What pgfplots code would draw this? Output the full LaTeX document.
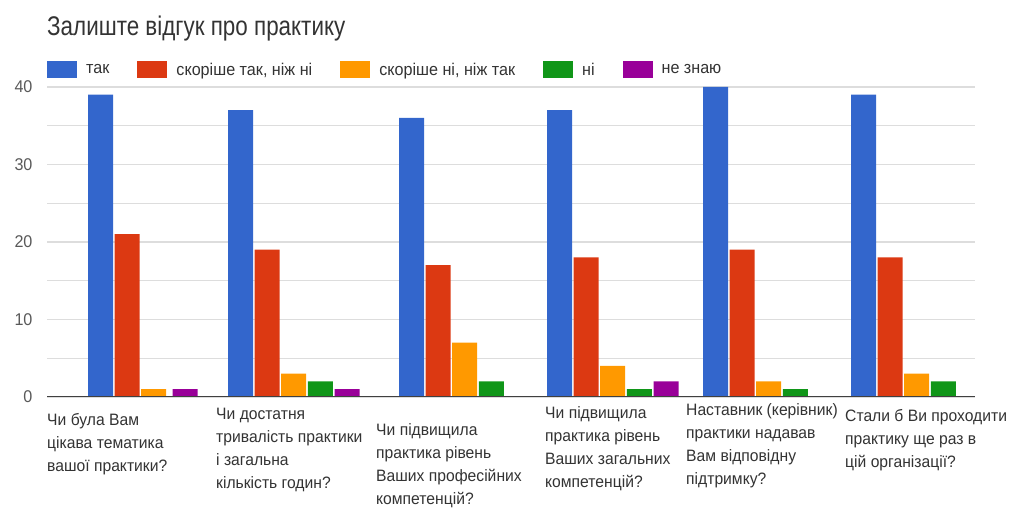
\documentclass[border=0pt]{standalone}
\usepackage{fontspec}
\setmainfont{Liberation Sans}[FakeStretch=0.95]
\newfontfamily\titlefont{Liberation Sans}[FakeStretch=0.83]
\usepackage{pgfplots}
\usepackage{pgfplotstable}
\pgfplotsset{compat=1.18}

\definecolor{gblue}{HTML}{3366CC}
\definecolor{gred}{HTML}{DC3912}
\definecolor{gorange}{HTML}{FF9900}
\definecolor{ggreen}{HTML}{109618}
\definecolor{gpurple}{HTML}{990099}
\definecolor{gridc}{HTML}{DDDDDD}
\definecolor{txt}{HTML}{333333}

% g = left edge of the group (px), xp = centre of the purple bar
\pgfplotstableread{
g   tak skortak skorni ni nz xp
88  39  21      1      0  1  185
228 37  19      3      2  1  347
399 36  17      7      2  0  518
547 37  18      4      1  2  666
703 40  19      2      1  0  822
851 39  18      3      2  0  970
}\data

\newcommand{\lbl}{\fontsize{16.5bp}{23bp}\selectfont}

\begin{document}
\begin{tikzpicture}[x=1bp,y=1bp]
\useasboundingbox (0,0) rectangle (1014,513);
\node[anchor=west, inner sep=0pt, text=txt] at (47,484)
  {\titlefont\fontsize{27bp}{30bp}\selectfont Залиште відгук про практику};
\begin{axis}[
    at={(47bp,116bp)}, anchor=south west,
    scale only axis, width=928bp, height=310bp,
    xmin=47, xmax=975, ymin=0, ymax=40,
    ybar, bar width=25, bar shift=0pt,
    axis line style={draw=none},
    xtick=\empty,
    ytick={0,10,20,30,40},
    minor ytick={5,15,25,35},
    major tick length=0pt, minor tick length=0pt,
    grid=both,
    major grid style={gridc, line width=1.2bp},
    minor grid style={gridc, line width=1.2bp},
    /pgf/number format/assume math mode=true,
    yticklabel style={font=\fontsize{17bp}{20bp}\selectfont, text=black!65, xshift=-11bp},
    legend columns=-1,
    legend image code/.code={\fill[#1] (0bp,-8.5bp) rectangle (30bp,8.5bp);},
    legend style={at={(0,1)}, anchor=west, yshift=17bp, draw=none, fill=none,
        inner sep=0pt, font=\fontsize{17bp}{20bp}\selectfont, text=txt,
        /tikz/every odd column/.append style={column sep=7bp},
        /tikz/every even column/.append style={column sep=26bp}},
]
\addplot[fill=gblue, draw=none] table[x expr=\thisrow{g}+12.5, y=tak] {\data};
\addplot[fill=gred, draw=none] table[x expr=\thisrow{g}+39.1, y=skortak] {\data};
\addplot[fill=gorange, draw=none] table[x expr=\thisrow{g}+65.7, y=skorni] {\data};
\addplot[fill=ggreen, draw=none] table[x expr=\thisrow{g}+92.3, y=ni] {\data};
\addplot[fill=gpurple, draw=none] table[x=xp, y=nz] {\data};
\legend{так, {скоріше так, ніж ні}, {скоріше ні, ніж так}, ні, не знаю}
\draw[black!75, line width=1.8bp] (axis cs:47,0) -- (axis cs:975,0);
\end{axis}
\begin{scope}[every node/.style={anchor=north west, align=left, inner sep=0pt, text=black!80, font=\lbl}]
\node at (47,100) {Чи була Вам\\цікава тематика\\вашої практики?};
\node at (216,105) {Чи достатня\\тривалість практики\\і загальна\\кількість годин?};
\node at (376,90) {Чи підвищила\\практика рівень\\Ваших професійних\\компетенцій?};
\node at (545,107) {Чи підвищила\\практика рівень\\Ваших загальних\\компетенцій?};
\node at (686,110) {Наставник (керівник)\\практики надавав\\Вам відповідну\\підтримку?};
\node at (845,104) {Стали б Ви проходити\\практику ще раз в\\цій організації?};
\end{scope}
\end{tikzpicture}
\end{document}
